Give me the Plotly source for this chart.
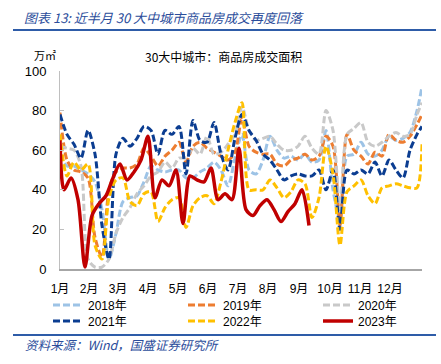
import plotly.graph_objects as go

# ---------------- data ----------------
month_labels = ["1月", "2月", "3月", "4月", "5月", "6月", "7月", "8月", "9月", "10月", "11月", "12月"]
month_days = [0, 29, 58, 88, 118, 148, 178, 208, 239, 270, 300, 330]

# day-of-year for weekly points (2018-2022)
days_full = [0, 7, 14, 21, 28, 35, 42, 49, 56, 63, 70, 77, 84, 91, 98, 105, 112, 119, 126, 133,
             140, 147, 154, 161, 168, 175, 182, 189, 196, 203, 210, 217, 224, 231, 238, 245,
             252, 259, 266, 273, 280, 287, 294, 301, 308, 315, 322, 329, 336, 343, 350, 357, 362]
# day-of-year for weekly points (2023)
days_2023 = [0, 4, 11, 18, 25, 32, 39, 46, 53, 60, 67, 74, 81, 88, 95, 102, 109, 116, 123, 130,
             137, 144, 151, 158, 165, 172, 179, 186, 193, 200, 207, 214, 221, 228, 235, 242, 249]

y2018 = [58, 52, 52, 50, 48, 44, 30, 5, 18, 34, 36, 37, 44, 52, 50, 49, 50, 50, 46, 46,
         49, 51, 54, 50, 42, 56, 68, 50, 48, 55, 67, 60, 56, 57, 55, 58,
         54, 55, 70, 40, 25, 57, 58, 64, 58, 57, 60, 67, 65, 66, 69, 80, 92]
y2019 = [79, 55, 50, 49, 46, 16, 6, 40, 49, 51, 51, 53, 61, 57, 52, 57, 60, 64, 54, 62,
         64, 61, 59, 57, 55, 59, 76, 62, 59, 58, 58, 53, 52, 55, 56, 58,
         55, 57, 67, 62, 22, 68, 60, 57, 53, 59, 57, 68, 65, 64, 67, 73, 78]
y2020 = [62, 61, 60, 52, 5, 1, 1, 5, 18, 26, 31, 38, 42, 47, 49, 54, 51, 56, 56, 61,
         58, 67, 58, 59, 63, 68, 82, 70, 65, 66, 67, 63, 60, 60, 62, 67,
         61, 58, 80, 70, 30, 68, 71, 74, 64, 62, 64, 67, 69, 67, 68, 78, 84]
y2021 = [78, 68, 63, 56, 70, 58, 22, 5, 58, 66, 62, 66, 72, 70, 58, 70, 68, 72, 48, 75,
         65, 64, 74, 58, 50, 66, 78, 70, 65, 58, 55, 50, 45, 47, 48, 47,
         47, 50, 40, 50, 20, 50, 48, 50, 48, 54, 47, 55, 50, 46, 60, 68, 72]
y2022 = [68, 47, 54, 50, 53, 12, 5, 36, 45, 46, 34, 32, 38, 39, 24, 31, 35, 36, 21, 32,
         36, 37, 33, 44, 60, 74, 84, 40, 40, 40, 45, 41, 36, 39, 45, 43,
         26, 36, 62, 48, 12, 39, 42, 45, 37, 33, 41, 42, 43, 42, 41, 41, 63]
y2023 = [65, 40, 46, 35, 1, 27, 33, 37, 46, 53, 45, 49, 55, 67, 36, 45, 42, 50, 23, 47,
         45, 44, 51, 35, 38, 35, 61, 30, 27, 32, 35, 30, 24, 29, 33, 40, 22]

series = [
    ("2018年", days_full, y2018, "#9DC3E6", "dash"),
    ("2019年", days_full, y2019, "#ED7D31", "dash"),
    ("2020年", days_full, y2020, "#C9C9C9", "dash"),
    ("2021年", days_full, y2021, "#0B3D91", "dash"),
    ("2022年", days_full, y2022, "#FFC000", "dash"),
    ("2023年", days_2023, y2023, "#C00000", "solid"),
]

W, H = 441, 364
# legend slot positions (container fractions)
legend_x = [48 / W, 183 / W, 318 / W, 48 / W, 183 / W, 318 / W]
legend_y = [1 - 305 / H, 1 - 305 / H, 1 - 305 / H, 1 - 321 / H, 1 - 321 / H, 1 - 321 / H]

FONT = "Liberation Sans, Noto Sans CJK SC, sans-serif"
CJK = "Noto Sans CJK SC, sans-serif"

fig = go.Figure()
for i, (name, xs, ys, color, dash) in enumerate(series):
    lid = "legend" if i == 0 else f"legend{i + 1}"
    fig.add_trace(go.Scatter(
        x=xs, y=ys, mode="lines", name=name,
        line=dict(color=color, width=3.5 if dash == "solid" else 3,
                  dash="solid" if dash == "solid" else "7px,3px",
                  shape="spline", smoothing=0.8),
        legend=lid, hoverinfo="skip",
    ))

ML, MR, MT, MB = 60, 19, 71, 95
PW, PH = W - ML - MR, H - MT - MB


def px(x):
    return (x - ML) / PW


def py(y):
    return (H - MB - y) / PH


layout_legends = {}
for i in range(6):
    lid = "legend" if i == 0 else f"legend{i + 1}"
    layout_legends[lid] = dict(
        x=legend_x[i], y=legend_y[i], xref="container", yref="container",
        xanchor="left", yanchor="middle", bgcolor="rgba(0,0,0,0)",
        font=dict(family=FONT, size=12, color="#000000"),
        itemwidth=30, tracegroupgap=0,
    )

fig.update_layout(
    width=W, height=H,
    margin=dict(l=ML, r=MR, t=MT, b=MB, autoexpand=False),
    paper_bgcolor="white", plot_bgcolor="white",
    showlegend=True,
    font=dict(family=FONT, size=12, color="#000000"),
    xaxis=dict(
        range=[0, 362], tickmode="array", tickvals=month_days, ticktext=month_labels,
        showgrid=False, zeroline=False, showline=True, linecolor="#A6A6A6", linewidth=1.5,
        ticks="", ticklabelstandoff=8, tickfont=dict(family=FONT, size=12, color="#000000"),
    ),
    yaxis=dict(
        range=[0, 100], tickvals=[0, 20, 40, 60, 80, 100],
        showgrid=False, zeroline=False, showline=True, linecolor="#BFBFBF", linewidth=1,
        ticks="inside", ticklen=4, tickcolor="#BFBFBF", ticklabelstandoff=10,
        tickfont=dict(family=FONT, size=13, color="#000000"),
    ),
    **layout_legends,
)

fig.add_annotation(
    x=px(22), y=py(18), xref="paper", yref="paper", xanchor="left", yanchor="middle",
    text="<i>图表 13: 近半月 30 大中城市商品房成交再度回落</i>", showarrow=False,
    font=dict(family=CJK, size=13, color="#2B4D9B"),
)
fig.add_shape(type="line", xref="paper", yref="paper", x0=px(13), x1=px(436), y0=py(30), y1=py(30),
              line=dict(color="#2E5CA8", width=2))
fig.add_annotation(
    x=px(143), y=py(56), xref="paper", yref="paper", xanchor="left", yanchor="middle",
    text="30大中城市：商品房成交面积", showarrow=False,
    font=dict(family=CJK, size=12, color="#000000"),
)
fig.add_annotation(
    x=px(32), y=py(55), xref="paper", yref="paper", xanchor="left", yanchor="middle",
    text="万㎡", showarrow=False,
    font=dict(family=CJK, size=11, color="#000000"),
)
fig.add_shape(type="line", xref="paper", yref="paper", x0=px(13), x1=px(436), y0=py(335), y1=py(335),
              line=dict(color="#2E5CA8", width=2))
fig.add_annotation(
    x=px(23), y=py(344), xref="paper", yref="paper", xanchor="left", yanchor="middle",
    text="<i>资料来源：Wind，国盛证券研究所</i>", showarrow=False,
    font=dict(family=CJK, size=12.5, color="#2B4D9B"),
)

fig.write_html("out.html", config={"displayModeBar": False},
               post_script="document.body.style.margin='0';")
